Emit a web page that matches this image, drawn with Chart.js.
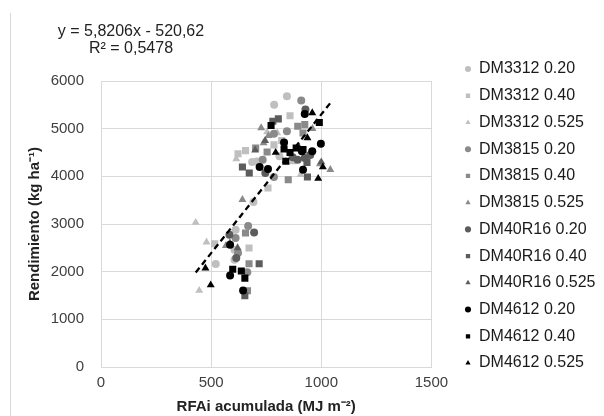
<!DOCTYPE html>
<html><head><meta charset="utf-8">
<script src="https://cdn.jsdelivr.net/npm/chart.js@4.4.0/dist/chart.umd.min.js"></script>
<style>html,body{margin:0;padding:0;background:#fff;}#wrap{width:604px;height:416px;}</style>
</head><body><div id="wrap"><canvas id="c" width="604" height="416"></canvas></div>
<script>
// ---- data (RFAi acumulada MJ m-2, Rendimiento kg ha-1) ----
const seriesLabels = ['DM3312 0.20','DM3312 0.40','DM3312 0.525','DM3815 0.20','DM3815 0.40','DM3815 0.525',
  'DM40R16 0.20','DM40R16 0.40','DM40R16 0.525','DM4612 0.20','DM4612 0.40','DM4612 0.525'];
const dm3312_020 = [[844,5680],[786,5500],[707,4310],[686,4300],[692,3460],[611,2880],[606,2460],[521,2160],[606,2250],[810,4420]];
const dm3312_040 = [[858,5270],[656,4540],[622,4475],[785,4660],[758,3755],[516,2585],[672,2495],[820,4750]];
const dm3312_525 = [[754,4930],[800,4910],[614,4365],[906,4035],[430,3030],[479,2620],[446,1605],[870,4300]];
const dm3815_020 = [[909,5590],[844,4945],[785,4895],[734,4350],[785,3985],[668,2960],[611,2705],[622,2390],[664,1990]];
const dm3815_040 = [[893,5050],[925,5085],[917,4910],[702,4595],[754,4510],[850,3930],[656,2810],[672,2165],[665,1600]];
const dm3815_525 = [[727,5015],[738,4700],[994,4260],[1041,4140],[642,3510],[567,2545],[760,4850],[960,5000]];
const dm40r16_020 = [[928,5400],[746,4070],[893,4350],[925,4385],[695,2820],[583,2775],[614,2285],[870,4400],[950,4450]];
const dm40r16_040 = [[805,5205],[780,5155],[935,4290],[937,3985],[642,4195],[673,4070],[718,2165],[653,1495]];
const dm40r16_525 = [[745,4750],[900,4600],[1000,4300],[585,2600],[620,2500],[700,4550]];
const dm4612_020 = [[925,5310],[831,4710],[998,4685],[912,4525],[959,4525],[720,4195],[917,4140],[758,4155],[586,2565],[586,1920],[645,1605]];
const dm4612_040 = [[772,5065],[991,5130],[831,4575],[886,4595],[917,4560],[858,4500],[839,4315],[598,2050],[637,2015],[653,1865]];
const dm4612_525 = [[959,5330],[937,4805],[793,4500],[986,3955],[1007,4195],[474,2075],[498,1720]];
const seriesData = [dm3312_020,dm3312_040,dm3312_525,dm3815_020,dm3815_040,dm3815_525,
  dm40r16_020,dm40r16_040,dm40r16_525,dm4612_020,dm4612_040,dm4612_525];
// regression
const trendSlope = 5.8206, trendIntercept = -520.62;
const trendXRange = [430, 1040];
const equationLines = ['y = 5,8206x - 520,62', 'R\u00b2 = 0,5478'];
const xTicks = [0, 500, 1000, 1500];
const yTicks = [0, 1000, 2000, 3000, 4000, 5000, 6000];

// ---- styles ----
const cultivarColors = ['#bfbfbf', '#8a8a8a', '#5c5c5c', '#000000'];
const densityStyles = ['circle', 'rect', 'triangle'];
const styleRadius = {circle: 4, rect: 5, triangle: 4.6};
const FONT = '"Liberation Sans", Arial, sans-serif';
const LEG_FONT = 16, LEG_PAD = 10.73, LEG_BOX = 6, LEG_MARK = 4.3;

const datasets = seriesData.map((pts, i) => {
  const col = cultivarColors[Math.floor(i / 3)];
  const ps = densityStyles[i % 3];
  return {
    label: seriesLabels[i],
    data: pts.map(p => ({x: p[0], y: p[1]})),
    backgroundColor: col, borderColor: col, borderWidth: 0,
    pointStyle: ps, pointRadius: styleRadius[ps], pointHoverRadius: styleRadius[ps],
    showLine: false, order: 20 - i
  };
});
datasets.push({
  label: 'trend', type: 'line',
  data: trendXRange.map(x => ({x: x, y: trendSlope * x + trendIntercept})),
  borderColor: '#000', borderWidth: 2.3, borderDash: [6, 4], pointRadius: 0, fill: false, order: 0
});

// legend width estimate to place plot right edge
const mctx = document.createElement('canvas').getContext('2d');
mctx.font = LEG_FONT + 'px ' + FONT;
const maxTW = Math.max(...seriesLabels.map(s => mctx.measureText(s).width));
const legendW = LEG_PAD + LEG_BOX + LEG_FONT / 2 + maxTW + 10;
const PLOT_RIGHT = 424, LEG_MARK_X = 468, LEG_FIRST_Y = 69;

const decor = {
  id: 'decor',
  afterLayout(chart) {
    const lg = chart.legend;
    const left = LEG_MARK_X - LEG_BOX / 2 - LEG_PAD;
    const w = lg.width;
    lg.left = left; lg.right = left + w;
    lg.top = LEG_FIRST_Y - LEG_FONT / 2 - LEG_PAD; lg.bottom = 416;
  },
  beforeDraw(chart) {
    const c = chart.ctx;
    c.save(); c.strokeStyle = '#d9d9d9'; c.lineWidth = 1;
    c.beginPath(); c.moveTo(10.5, 13); c.lineTo(10.5, 416); c.stroke(); c.restore();
  },
  afterDraw(chart) {
    const c = chart.ctx;
    c.save(); c.font = '16px ' + FONT; c.fillStyle = '#222';
    c.textAlign = 'center'; c.textBaseline = 'middle';
    c.fillText(equationLines[0], 131, 32);
    c.fillText(equationLines[1], 131, 49);
    c.restore();
  }
};

new Chart(document.getElementById('c'), {
  type: 'scatter',
  data: {datasets},
  plugins: [decor],
  options: {
    responsive: false, animation: false, devicePixelRatio: 1,
    layout: {padding: {top: 81, left: 0, bottom: 0, right: Math.max(0, 604 - PLOT_RIGHT - legendW)}},
    plugins: {
      tooltip: {enabled: false},
      legend: {
        position: 'right', align: 'start',
        labels: {
          font: {family: FONT, size: LEG_FONT}, color: '#1a1a1a',
          usePointStyle: true, boxWidth: LEG_BOX, boxHeight: LEG_MARK, padding: LEG_PAD,
          filter: item => item.datasetIndex < seriesLabels.length,
          sort: (a, b) => a.datasetIndex - b.datasetIndex
        }
      }
    },
    scales: {
      x: {
        type: 'linear', min: xTicks[0], max: xTicks[xTicks.length - 1],
        afterBuildTicks: s => { s.ticks = xTicks.map(v => ({value: v})); },
        afterFit: s => { s.height = 49; },
        grid: {color: '#d9d9d9', drawTicks: false},
        border: {color: '#d9d9d9'},
        ticks: {font: {family: FONT, size: 15}, color: '#404040', padding: 7, callback: v => String(v)},
        title: {display: true, text: 'RFAi acumulada (MJ m\u207B\u00B2)', font: {family: FONT, size: 15, weight: 'bold'}, color: '#222', padding: {top: 0, bottom: 0}}
      },
      y: {
        type: 'linear', min: yTicks[0], max: yTicks[yTicks.length - 1],
        afterBuildTicks: s => { s.ticks = yTicks.map(v => ({value: v})); },
        afterFit: s => { s.width = 101; },
        grid: {color: '#d9d9d9', drawTicks: false},
        border: {color: '#d9d9d9'},
        ticks: {font: {family: FONT, size: 15}, color: '#404040', padding: 17, callback: v => String(v)},
        title: {display: true, text: 'Rendimiento (kg ha\u207B\u00B9)', font: {family: FONT, size: 15, weight: 'bold'}, color: '#222', padding: {top: 26, bottom: 0}}
      }
    }
  }
});
</script>
</body></html>
